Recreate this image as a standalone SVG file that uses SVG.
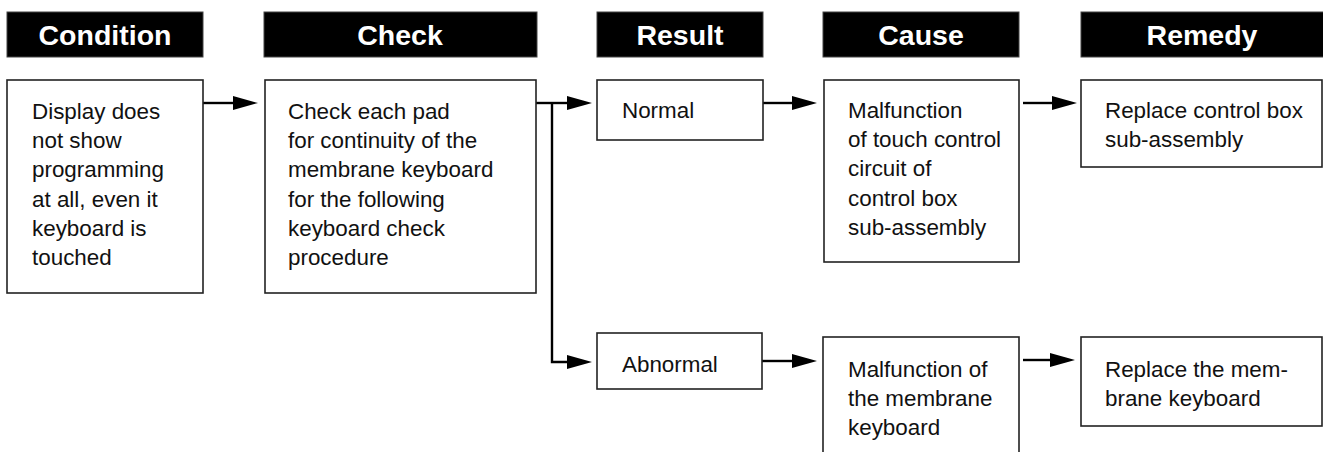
<svg xmlns="http://www.w3.org/2000/svg" width="1323" height="452" viewBox="0 0 1323 452">
<defs>
<style>
.hdr{fill:#000;stroke:#444;stroke-width:1}
.ht{font-family:"Liberation Sans",Arial,sans-serif;font-weight:bold;font-size:28.5px;fill:#fff;text-anchor:middle}
.box{fill:#fff;stroke:#222;stroke-width:1.6}
.t{font-family:"Liberation Sans",Arial,sans-serif;font-size:22.4px;fill:#111}
.c{fill:none;stroke:#000;stroke-width:2.4}
</style>
</defs>
<rect width="1323" height="452" fill="#fff"/>
<g id="headers">
<g id="h-condition"><rect class="hdr" x="7" y="12" width="196" height="45"/><text class="ht" x="105" y="45">Condition</text></g>
<g id="h-check"><rect class="hdr" x="264" y="12" width="273" height="45"/><text class="ht" x="400" y="45">Check</text></g>
<g id="h-result"><rect class="hdr" x="597" y="12" width="166" height="45"/><text class="ht" x="680" y="45">Result</text></g>
<g id="h-cause"><rect class="hdr" x="823" y="12" width="196" height="45"/><text class="ht" x="921" y="45">Cause</text></g>
<g id="h-remedy"><rect class="hdr" x="1081" y="12" width="250" height="45"/><text class="ht" x="1202" y="45">Remedy</text></g>
</g>
<g id="connectors">
<path class="c" d="M203,103 H233"/>
<path d="M233,96 L258,103 L233,110 z" fill="#000"/>
<path class="c" d="M536,103 H567"/>
<path d="M567,96 L592,103 L567,110 z" fill="#000"/>
<path class="c" d="M552,103 V362 H567"/>
<path d="M567,355 L592,362 L567,369 z" fill="#000"/>
<path class="c" d="M763,103 H792"/>
<path d="M792,96 L817,103 L792,110 z" fill="#000"/>
<path class="c" d="M1023,103 H1052"/>
<path d="M1052,96 L1077,103 L1052,110 z" fill="#000"/>
<path class="c" d="M762,361 H792"/>
<path d="M792,354 L817,361 L792,368 z" fill="#000"/>
<path class="c" d="M1023,360 H1050"/>
<path d="M1050,353 L1075,360 L1050,367 z" fill="#000"/>
</g>
<g id="condition">
<rect class="box" x="7" y="80" width="196" height="213"/>
<text class="t" x="32" y="119"><tspan x="32">Display does</tspan><tspan x="32" dy="29.2">not show</tspan><tspan x="32" dy="29.2">programming</tspan><tspan x="32" dy="29.2">at all, even it</tspan><tspan x="32" dy="29.2">keyboard is</tspan><tspan x="32" dy="29.2">touched</tspan></text>
</g>
<g id="check">
<rect class="box" x="265" y="80" width="271" height="213"/>
<text class="t" x="288" y="119"><tspan x="288">Check each pad</tspan><tspan x="288" dy="29.2">for continuity of the</tspan><tspan x="288" dy="29.2">membrane keyboard</tspan><tspan x="288" dy="29.2">for the following</tspan><tspan x="288" dy="29.2">keyboard check</tspan><tspan x="288" dy="29.2">procedure</tspan></text>
</g>
<g id="normal">
<rect class="box" x="597" y="80" width="166" height="60"/>
<text class="t" x="622" y="118">Normal</text>
</g>
<g id="abnormal">
<rect class="box" x="597" y="333" width="165" height="56"/>
<text class="t" x="622" y="372">Abnormal</text>
</g>
<g id="cause1">
<rect class="box" x="824" y="80" width="195" height="182"/>
<text class="t" x="848" y="118"><tspan x="848">Malfunction</tspan><tspan x="848" dy="29.2">of touch control</tspan><tspan x="848" dy="29.2">circuit of</tspan><tspan x="848" dy="29.2">control box</tspan><tspan x="848" dy="29.2">sub-assembly</tspan></text>
</g>
<g id="cause2">
<rect class="box" x="823" y="337" width="196" height="130"/>
<text class="t" x="848" y="377"><tspan x="848">Malfunction of</tspan><tspan x="848" dy="29.2">the membrane</tspan><tspan x="848" dy="29.2">keyboard</tspan></text>
</g>
<g id="remedy1">
<rect class="box" x="1081" y="80" width="241" height="87"/>
<text class="t" x="1105" y="118"><tspan x="1105">Replace control box</tspan><tspan x="1105" dy="29.2">sub-assembly</tspan></text>
</g>
<g id="remedy2">
<rect class="box" x="1081" y="337" width="241" height="89"/>
<text class="t" x="1105" y="377"><tspan x="1105">Replace the mem-</tspan><tspan x="1105" dy="29.2">brane keyboard</tspan></text>
</g>
</svg>
